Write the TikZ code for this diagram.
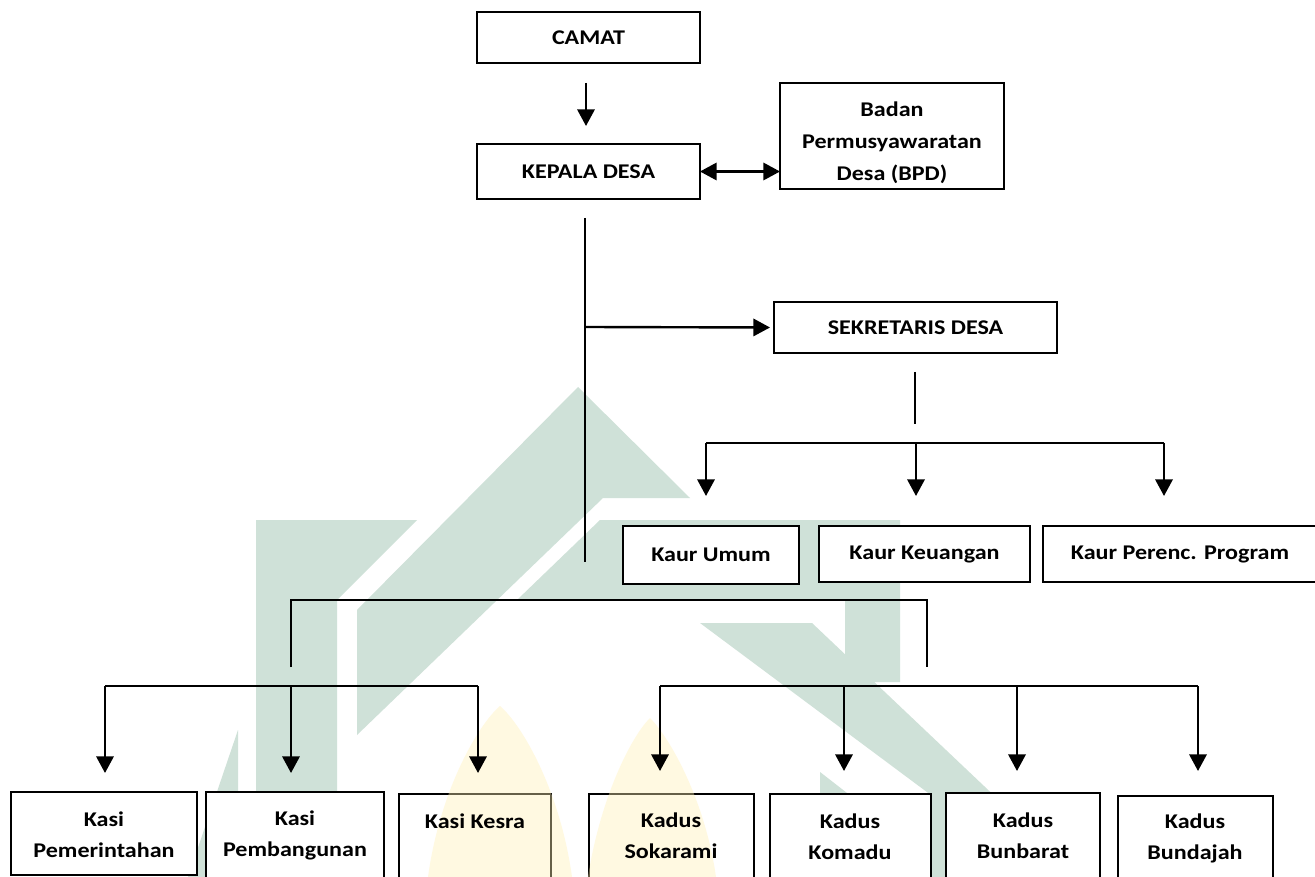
\documentclass[tikz,border=0pt]{standalone}
\usepackage{fontspec}
\setmainfont{Carlito}[FakeStretch=1.15]
\usetikzlibrary{arrows.meta}
\definecolor{wmgreen}{RGB}{207,225,216}
\definecolor{wmyellow}{RGB}{255,240,180}
\tikzset{
  box/.style={draw=black, line width=1.3pt, fill=white, inner sep=0pt, outer sep=0pt, anchor=north west},
  lbl/.style={font=\fontsize{15.7}{23.25}\selectfont\bfseries, align=center, inner sep=0pt},
  conn/.style={line width=1.8pt},
  arr/.style={conn, -{Triangle[width=13pt,length=12.5pt]}},
  darr/.style={conn, {Triangle[width=13pt,length=12.5pt]}-{Triangle[width=13pt,length=12.5pt]}},
  thinline/.style={line width=1pt},
  barline/.style={line width=2.1pt},
  wm/.style={fill=wmgreen, draw=none},
  wmy/.style={fill=wmyellow, fill opacity=0.4, draw=none},
}
\begin{document}
\begin{tikzpicture}[x=0.75pt,y=-0.75pt]
\useasboundingbox[fill=white] (0,0) rectangle (1315,877);

% watermark (background logo, green parts)
\fill[wm] (578,387) -- (690,498) -- (603,498) -- (357,735) -- (357,610) -- cycle;
\fill[wm] (256,877) -- (256,520) -- (417,520) -- (337,600) -- (337,877) -- cycle;
\fill[wm] (600,520) -- (900,520) -- (900,682) -- (845,682) -- (845,600) -- (517,600) -- cycle;
\fill[wm] (700,623) -- (812,623) -- (1080,877) -- (1041,877) -- cycle;
\fill[wm] (820,772) -- (847,793) -- (946,793) -- (946,877) -- (820,877) -- cycle;
\fill[wm] (238,730) -- (238,877) -- (188,877) -- cycle;

% top boxes
\node[box, minimum width=167.25pt, minimum height=38.25pt] (camat) at (477,12) {};
\node[box, minimum width=167.25pt, minimum height=41.25pt] (kepala) at (477,144) {};
\node[box, minimum width=168pt, minimum height=79.5pt] (bpd) at (780,83) {};
\node[box, minimum width=212.25pt, minimum height=38.25pt] (sek) at (774,302) {};

% kaur boxes
\node[box, minimum width=132pt, minimum height=43.5pt] (kaur1) at (623,526) {};
\node[box, minimum width=158.25pt, minimum height=42pt] (kaur2) at (819,526) {};
\node[box, minimum width=207.75pt, minimum height=42pt] (kaur3) at (1043,526) {};

% kasi boxes
\node[box, minimum width=139.5pt, minimum height=62.25pt] (kasi1) at (11,792) {};
\node[box, minimum width=133.5pt, minimum height=73.5pt] (kasi2) at (206,792) {};
\node[box, minimum width=114pt, minimum height=72pt] (kasi3) at (399,794) {};

% kadus boxes
\node[box, minimum width=123.75pt, minimum height=72pt] (kadus1) at (589,794) {};
\node[box, minimum width=120.75pt, minimum height=72pt] (kadus2) at (770,794) {};
\node[box, minimum width=115.5pt, minimum height=72.75pt] (kadus3) at (946,793) {};
\node[box, minimum width=116.25pt, minimum height=70.5pt] (kadus4) at (1118,796) {};

% watermark (yellow parts, shows through the boxes)
\fill[wmy] (428,877) .. controls (440,790) and (478,725) .. (500,706)
  .. controls (522,725) and (560,790) .. (572,877) -- cycle;
\fill[wmy] (588,877) .. controls (600,800) and (630,738) .. (650,718)
  .. controls (670,738) and (705,800) .. (716,877) -- cycle;

% texts
\node[lbl] (camatt) at (camat.center) {CAMAT};
\node[lbl] (kepalat) at (kepala.center) {KEPALA DESA};
\begin{scope}
  \clip (780,83) rectangle (1004,185);
  \node[lbl, font=\fontsize{15.7}{24}\selectfont\bfseries] (bpdt) at (892,143) {Badan\\Permusyawaratan\\Desa (BPD)};
\end{scope}
\node[lbl] (sekt) at (sek.center) {SEKRETARIS DESA};
\node[lbl] (kaur1t) at (kaur1.center) {Kaur Umum};
\node[lbl] (kaur2t) at (kaur2.center) {Kaur Keuangan};
\node[lbl] (kaur3t) at (1180,554) {Kaur Perenc. Program};
\node[lbl] (kasi1t) at (104,835) {Kasi\\Pemerintahan};
\node[lbl] (kasi2t) at (295,835) {Kasi\\Pembangunan};
\node[lbl] (kasi3t) at (475,821) {Kasi Kesra};
\node[lbl] (kadus1t) at (671,836) {Kadus\\Sokarami};
\node[lbl] (kadus2t) at (850,837) {Kadus\\Komadu};
\node[lbl] (kadus3t) at (1023,836) {Kadus\\Bunbarat};
\node[lbl] (kadus4t) at (1195,838) {Kadus\\Bundajah};

% free connector ends
\coordinate (c1) at (586,83);
\coordinate (c2) at (586,126);
\coordinate (v1) at (585,218);
\coordinate (v2) at (585,562);
\coordinate (vs) at (585,327);
\coordinate (s1) at (915,372);
\coordinate (s2) at (915,424);
\coordinate (kb1) at (706,443);
\coordinate (kb2) at (916,443);
\coordinate (kb3) at (1164,443);
\coordinate (g1) at (291,667);
\coordinate (g2) at (291,600);
\coordinate (g3) at (927,600);
\coordinate (g4) at (927,667);
\coordinate (ka) at (105,686);
\coordinate (kb) at (291,686);
\coordinate (kc) at (478,686);
\coordinate (kd) at (660,686);
\coordinate (ke) at (844,686);
\coordinate (kf) at (1017,686);
\coordinate (kg) at (1198,686);

% connectors
\draw[arr] (c1) -- (c2);
\draw[darr] (kepala.east) -- (kepala.east -| bpd.west);
\draw[line width=1.2pt] (v1) -- (v2);
\draw[arr, shorten >=3pt] (vs) -- (sek.west);
\draw[thinline] (s1) -- (s2);
\draw[barline] (kb1) -- (kb3);
\draw[arr] (kb1) -- (kb1 |- 0,496);
\draw[arr] (kb2) -- (kb2 |- 0,496);
\draw[arr] (kb3) -- (kb3 |- 0,496);
\draw[barline] (g1) -- (g2) -- (g3) -- (g4);
\draw[barline] (ka) -- (kc);
\draw[arr] (ka) -- (ka |- 0,773);
\draw[arr] (kb) -- (kb |- 0,773);
\draw[arr] (kc) -- (kc |- 0,773);
\draw[barline] (kd) -- (kg);
\draw[arr] (kd) -- (kd |- 0,771);
\draw[arr] (ke) -- (ke |- 0,771);
\draw[arr] (kf) -- (kf |- 0,771);
\draw[arr] (kg) -- (kg |- 0,771);
\end{tikzpicture}
\end{document}
